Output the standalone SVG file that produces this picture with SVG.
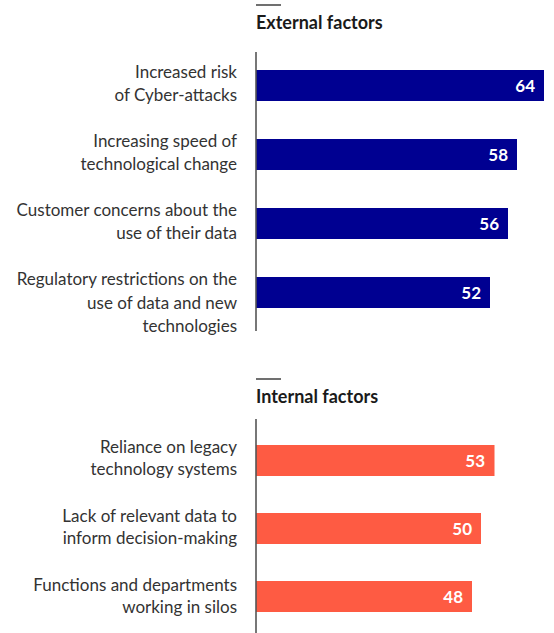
<svg xmlns="http://www.w3.org/2000/svg" width="554" height="633" viewBox="0 0 554 633">
<style>
.lbl{font-family:Lato,"Liberation Sans",sans-serif;font-size:17px;font-weight:400;fill:#333;text-anchor:end}
.ttl{font-family:Lato,"Liberation Sans",sans-serif;font-size:18px;font-weight:700;fill:#1a1a1a}
.val{font-family:Lato,"Liberation Sans",sans-serif;font-size:17px;font-weight:700;fill:#fff;text-anchor:end}
.ext{fill:#000091}
.int{fill:#FE5B43}
.axis{stroke:#555;stroke-width:1.6}
.rule{stroke:#333;stroke-width:1.4}
</style>
<rect width="554" height="633" fill="#fff"/>
<g id="external-header">
<line class="rule" x1="256" y1="5" x2="281" y2="5"/>
<text class="ttl" x="256" y="29">External factors</text>
</g>
<g id="ext-cyber">
<rect class="ext" x="256" y="70" width="288" height="31"/>
<text class="val" x="535" y="92">64</text>
<text class="lbl" x="237" y="78">Increased risk</text>
<text class="lbl" x="237" y="101">of Cyber-attacks</text>
</g>
<g id="ext-speed">
<rect class="ext" x="256" y="139" width="261" height="31"/>
<text class="val" x="508" y="161">58</text>
<text class="lbl" x="237" y="147">Increasing speed of</text>
<text class="lbl" x="237" y="170">technological change</text>
</g>
<g id="ext-customer">
<rect class="ext" x="256" y="208" width="252" height="31"/>
<text class="val" x="499" y="230">56</text>
<text class="lbl" x="237" y="216">Customer concerns about the</text>
<text class="lbl" x="237" y="239">use of their data</text>
</g>
<g id="ext-regulatory">
<rect class="ext" x="256" y="277" width="234" height="31"/>
<text class="val" x="481" y="299">52</text>
<text class="lbl" x="237" y="285">Regulatory restrictions on the</text>
<text class="lbl" x="237" y="308.5">use of data and new</text>
<text class="lbl" x="237" y="332">technologies</text>
</g>
<g id="internal-header">
<line class="rule" x1="256" y1="379" x2="281" y2="379"/>
<text class="ttl" x="256" y="403">Internal factors</text>
</g>
<g id="int-legacy">
<rect class="int" x="256" y="445" width="238.5" height="31"/>
<text class="val" x="485" y="467">53</text>
<text class="lbl" x="237" y="453">Reliance on legacy</text>
<text class="lbl" x="237" y="475">technology systems</text>
</g>
<g id="int-data">
<rect class="int" x="256" y="513" width="225" height="31"/>
<text class="val" x="472" y="535">50</text>
<text class="lbl" x="237" y="522">Lack of relevant data to</text>
<text class="lbl" x="237" y="544">inform decision-making</text>
</g>
<g id="int-silos">
<rect class="int" x="256" y="581" width="216" height="31"/>
<text class="val" x="463" y="603">48</text>
<text class="lbl" x="237" y="591">Functions and departments</text>
<text class="lbl" x="237" y="613">working in silos</text>
</g>
<g id="axes">
<line class="axis" x1="256" y1="52" x2="256" y2="331"/>
<line class="axis" x1="256" y1="419" x2="256" y2="633"/>
</g>
</svg>
